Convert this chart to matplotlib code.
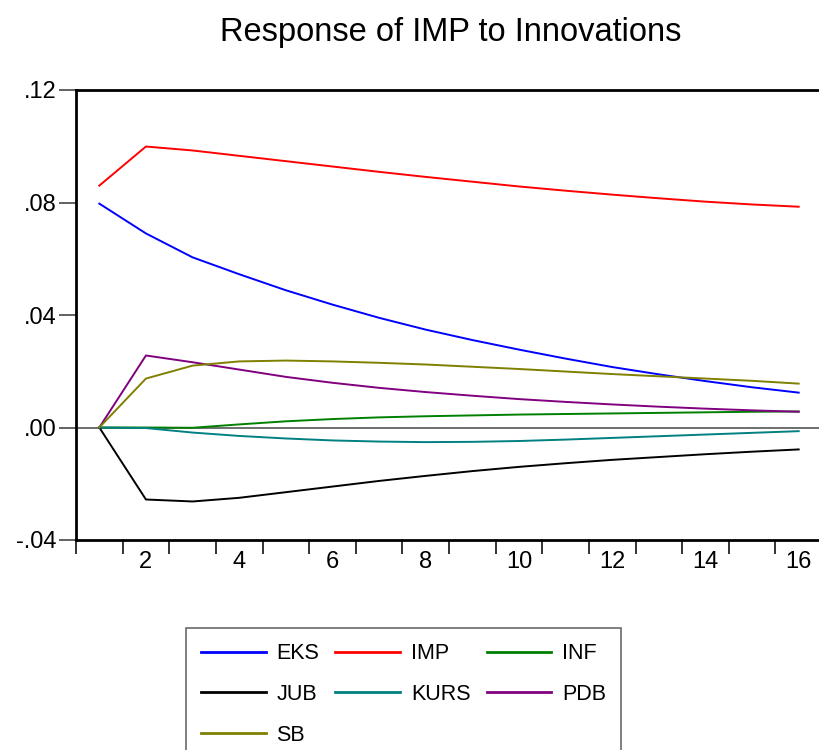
import matplotlib
matplotlib.use("Agg")
import matplotlib.pyplot as plt
import numpy as np

periods = list(range(1, 17))
EKS  = [0.0796, 0.0690, 0.0605, 0.0545, 0.0488, 0.0437, 0.0390, 0.0348, 0.0311, 0.0277, 0.0245, 0.0215, 0.0189, 0.0165, 0.0143, 0.0124]
IMP  = [0.0860, 0.0999, 0.0985, 0.0966, 0.0947, 0.0928, 0.0909, 0.0891, 0.0874, 0.0857, 0.0842, 0.0828, 0.0815, 0.0803, 0.0793, 0.0785]
INF  = [0.0, 0.0, -0.0001, 0.0011, 0.0022, 0.0030, 0.0036, 0.0040, 0.0043, 0.0046, 0.0048, 0.0050, 0.0052, 0.0054, 0.0056, 0.0057]
JUB  = [0.0, -0.0256, -0.0263, -0.0250, -0.0230, -0.0210, -0.0190, -0.0172, -0.0155, -0.0140, -0.0127, -0.0115, -0.0105, -0.0095, -0.0086, -0.0078]
KURS = [0.0, -0.0002, -0.0018, -0.0030, -0.0039, -0.0046, -0.0050, -0.0052, -0.0051, -0.0048, -0.0043, -0.0037, -0.0031, -0.0025, -0.0019, -0.0013]
PDB  = [0.0, 0.0256, 0.0232, 0.0206, 0.0180, 0.0159, 0.0141, 0.0126, 0.0113, 0.0101, 0.0091, 0.0082, 0.0074, 0.0067, 0.0061, 0.0056]
SB   = [0.0, 0.0174, 0.0220, 0.0235, 0.0238, 0.0235, 0.0230, 0.0224, 0.0216, 0.0208, 0.0199, 0.0190, 0.0182, 0.0174, 0.0166, 0.0156]

series = [("EKS", EKS, "#0000ff"), ("IMP", IMP, "#ff0000"), ("INF", INF, "#008000"),
          ("JUB", JUB, "#000000"), ("KURS", KURS, "#008080"), ("PDB", PDB, "#800080"),
          ("SB", SB, "#808000")]

yticks = [-0.04, 0.00, 0.04, 0.08, 0.12]
ytick_labels = ["-.04", ".00", ".04", ".08", ".12"]
xtick_labels = [2, 4, 6, 8, 10, 12, 14, 16]

plt.rcParams['font.family'] = ['Liberation Sans', 'DejaVu Sans']

fig = plt.figure(figsize=(8.19, 7.5), dpi=100)
ax = fig.add_axes([76/819, 1-540/750, (822-76)/819, (540-90)/750])

ax.axhline(0, color="#555555", lw=1.2, zorder=1)
handles = {}
for name, vals, col in series:
    h, = ax.plot(periods, vals, color=col, lw=1.4, label=name, zorder=3)
    handles[name] = h

ax.set_xlim(0.5, 16.5)
ax.set_ylim(-0.04, 0.12)
ax.set_yticks(yticks)
ax.set_yticklabels(ytick_labels, fontsize=17)
ax.set_xticks(xtick_labels)
ax.set_xticklabels([str(v) for v in xtick_labels], fontsize=17)
ax.tick_params(axis='x', which='major', length=0, pad=8)
ax.set_xticks(np.arange(0.5, 17, 1.0), minor=True)
ax.tick_params(axis='x', which='minor', length=10, width=1.3, color="#222222", direction='out')
ax.tick_params(axis='y', which='major', length=12, width=1.3, color="#555555", direction='out', pad=2)
for s in ax.spines.values():
    s.set_linewidth(2)
    s.set_color("black")

fig.text(451/819, 1-33/750, "Response of IMP to Innovations", ha='center', va='center', fontsize=23.5)

# column-major fill so that rows read EKS IMP INF / JUB KURS PDB / SB
order = ["EKS", "JUB", "SB", "IMP", "KURS", "INF", "PDB"]
leg = fig.legend(handles=[handles[n] for n in order], loc='upper left',
                 bbox_to_anchor=(186/819, 1-628/750),
                 ncol=3, fontsize=15.5, frameon=True, fancybox=False, edgecolor="#444444",
                 handlelength=3.0, handletextpad=0.5, columnspacing=0.75,
                 labelspacing=0.92, borderpad=0.7, borderaxespad=0)
leg.get_frame().set_linewidth(1.2)
for line in leg.get_lines():
    line.set_linewidth(2)

fig.savefig("out.png", dpi=100)
